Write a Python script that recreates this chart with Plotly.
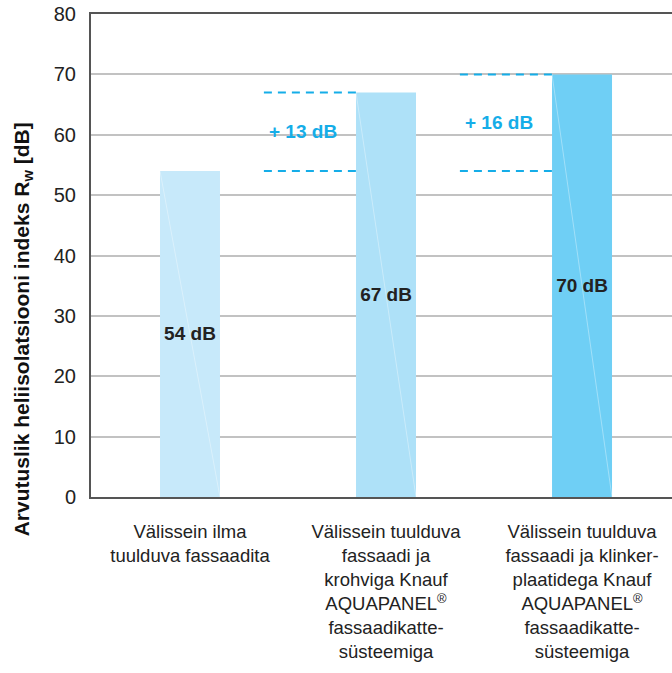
import plotly.graph_objects as go

categories = [
    "Välissein ilma<br>tuulduva fassaadita",
    "Välissein tuulduva<br>fassaadi ja<br>krohviga Knauf<br>AQUAPANEL<sup>®</sup><br>fassaadikatte-<br>süsteemiga",
    "Välissein tuulduva<br>fassaadi ja klinker-<br>plaatidega Knauf<br>AQUAPANEL<sup>®</sup><br>fassaadikatte-<br>süsteemiga",
]
values = [54, 67, 70]
value_labels = ["54 dB", "67 dB", "70 dB"]
bar_colors = ["#c7e9fa", "#aee1f8", "#6fcff5"]
gain_labels = ["", "+ 13 dB", "+ 16 dB"]
y_ticks = [0, 10, 20, 30, 40, 50, 60, 70, 80]

FONT = "Liberation Sans, Arial, sans-serif"
ACCENT = "#15ade8"
BAR_W = 0.306
pos = list(range(len(categories)))

fig = go.Figure()
fig.add_trace(go.Bar(
    x=pos, y=values, width=BAR_W,
    marker=dict(color=bar_colors, line=dict(width=0)),
    text=["<b>" + t + "</b>" for t in value_labels],
    textposition="inside", insidetextanchor="middle",
    textangle=0,
    textfont=dict(family=FONT, size=19, color="#222222"),
    hoverinfo="skip",
))

shapes = []
annotations = []
base = values[0]
for i, v in enumerate(values):
    # faint diagonal seam in each bar
    shapes.append(dict(type="line", xref="x", yref="y",
                       x0=i - BAR_W / 2, y0=v, x1=i + BAR_W / 2, y1=0,
                       line=dict(color="rgba(255,255,255,0.35)", width=1)))
    if gain_labels[i]:
        xl = i - BAR_W / 2
        for yy in (base, v):
            shapes.append(dict(type="line", xref="x", yref="y",
                               x0=xl - 0.47, x1=xl, y0=yy, y1=yy,
                               line=dict(color=ACCENT, width=2, dash="8px,6px")))
        annotations.append(dict(x=i - 0.423, y=(base + v) / 2, xref="x", yref="y",
                                text="<b>" + gain_labels[i] + "</b>", showarrow=False,
                                font=dict(family=FONT, size=19, color=ACCENT),
                                xanchor="center", yanchor="middle"))

annotations.append(dict(
    x=-0.118, y=0.348, xref="paper", yref="paper", textangle=-90,
    text="<b>Arvutuslik heliisolatsiooni indeks R<sub>w</sub> [dB]</b>",
    showarrow=False, font=dict(family=FONT, size=21, color="#111111"),
    xanchor="center", yanchor="middle"))

fig.update_layout(
    width=672, height=673,
    margin=dict(l=91, r=0, t=14, b=176),
    paper_bgcolor="white", plot_bgcolor="white",
    showlegend=False,
    shapes=shapes, annotations=annotations,
    xaxis=dict(
        range=[-0.505, 2.459], tickmode="array", tickvals=pos, ticktext=categories,
        tickfont=dict(family=FONT, size=18.5, color="#222222"),
        showline=True, linecolor="#555555", linewidth=2, mirror=True,
        showgrid=False, zeroline=False, ticks="", ticklabelstandoff=17,
    ),
    yaxis=dict(
        range=[0, 80], tickmode="array", tickvals=y_ticks,
        tickfont=dict(family=FONT, size=20, color="#222222"),
        showline=True, linecolor="#555555", linewidth=2,
        showgrid=True, gridcolor="#c2c2c2", gridwidth=1.5,
        zeroline=False, ticks="", ticklabelstandoff=9,
    ),
)

fig.write_html("out.html")
